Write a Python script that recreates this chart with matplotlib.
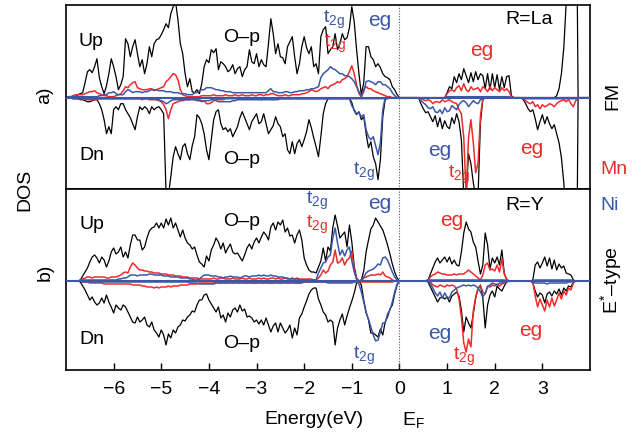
import numpy as np
import matplotlib
matplotlib.use("Agg")
import matplotlib.pyplot as plt

plt.rcParams['font.family'] = ['Liberation Sans', 'DejaVu Sans']
plt.rcParams['mathtext.fontset'] = 'custom'
plt.rcParams['mathtext.rm'] = 'Liberation Sans'
plt.rcParams['mathtext.it'] = 'Liberation Sans:italic'

RED = '#ee2b2b'
BLUE = '#3b58a8'

# energy grid, -7.00 ... 4.00 eV in 0.05 eV steps (221 points)
energy = np.round(np.linspace(-7.0, 4.0, 221), 2)

# ---------------- a) R=La, FM ----------------
a_up_tot = ([0, 0.1, 0, 0.2, 0.1, 0.3, 0.4, 0.5, 1.5, 2.6, 2.8, 2.5, 3.1, 3.9, 2.0, 1.1, 0.4, 1.2, 2.4, 3.9]
            + [3.1, 2.1, 0.8, 1.3, 2.1, 5.9, 5.4, 4.1, 5.1, 5.8, 4.4, 3.1, 3.8, 2.4, 3.4, 5.1, 4.1, 5.4, 5.8, 5.9]
            + [6.3, 6.8, 7.4, 7.0, 8.4, 9.1, 9.6, 7.8, 5.4, 4.4, 2.4, 1.1, 1.9, 0.6, 0.5, 0.8, 0.4, 1.4, 3.1, 3.8]
            + [3.5, 4.8, 4.5, 4.9, 2.8, 3.6, 3.4, 3.1, 2.6, 2.8, 3.3, 2.4, 2.9, 3.1, 2.1, 2.8, 3.1, 4.8, 3.6, 3.4]
            + [4.4, 3.1, 3.8, 3.3, 3.1, 5.4, 7.9, 6.4, 4.4, 5.4, 4.1, 4.0, 3.4, 5.1, 5.6, 6.1, 4.1, 2.4, 3.4, 5.1]
            + [6.1, 5.0, 4.4, 5.1, 3.1, 3.4, 2.4, 6.1, 6.8, 7.1, 4.4, 4.8, 5.1, 6.4, 4.8, 5.4, 6.4, 5.8, 6.0, 7.0]
            + [9.1, 7.6, 4.8, 2.4, 0.3, 1.5, 5.1, 5.1, 4.1, 3.8, 3.1, 3.4, 3.0, 2.4, 2.1, 2.0, 1.8, 1.1, 0.8, 0.3]
            + [0] * 20
            + [0.5, 1.1, 0.9, 2.1, 1.5, 2.4, 1.8, 2.9, 2.2, 1.5, 2.5, 1.6, 2.6, 1.8, 2.4, 2.2, 0.9, 2.4, 0.8, 2.4]
            + [1.0, 2.3, 0.8, 2.1, 1.0, 2.1, 2.2, 0.2] + [0] * 12
            + [0] * 6 + [0.2, 0.9, 2.4, 5.0, 9.5, 20, 30, 30, 30, 0, 0, 0, 0, 0]
            + [0])
a_dn_tot = ([0, 0, 0, -0.1, 0, -0.1, -0.2, -0.2, -0.3, -0.4, -0.4, -0.3, -0.2, -0.2, -0.6, -1.2, -2.2, -3.6, -2.9, -3.6]
            + [-1.2, -0.9, -1.2, -0.6, -0.6, -1.2, -1.6, -2.0, -2.6, -3.2, -1.9, -0.9, -1.2, -0.9, -1.1, -1.6, -0.9, -1.2, -1.0, -0.9]
            + [-1.2, -1.6, -9.5, -9.8, -7.9, -5.9, -4.9, -5.6, -6.2, -4.9, -4.6, -5.6, -6.2, -4.8, -3.9, -1.7, -2.0, -2.6, -3.6, -5.2]
            + [-6.2, -4.2, -2.2, -1.4, -1.2, -2.6, -3.2, -3.0, -3.4, -3.1, -3.9, -3.4, -2.9, -2.0, -1.4, -2.0, -2.6, -3.2, -2.4, -2.0]
            + [-1.6, -2.6, -2.4, -1.6, -2.6, -3.6, -3.2, -2.8, -1.9, -2.6, -2.9, -3.9, -3.6, -5.2, -5.6, -4.4, -5.6, -4.6, -4.2, -4.9]
            + [-4.2, -3.4, -2.2, -3.0, -4.0, -4.9, -5.9, -3.9, -1.6, -0.6, -0.1] + [0] * 9
            + [-0.5, -1.3, -1.7, -1.4, -2.2, -1.9, -3.6, -5.0, -4.4, -5.9, -6.6, -8.2, -6.2, -1.9, -0.2] + [0] * 5
            + [0] * 9 + [-0.6, -1.1, -1.5, -1.4, -1.9, -2.4, -1.8, -2.9, -2.0, -3.1, -2.3]
            + [-2.9, -3.1, -2.0, -2.6, -1.6, -2.4, -4.2, -9.8, -9.8, -5.6, -6.6, -8.5, -9.8, -9.8, -2.5, -0.2, 0, 0, 0, 0]
            + [0] * 12 + [-0.2, -0.6, -1.1, -1.4, -1.2, -2.1, -3.2, -2.4]
            + [-1.7, -2.6, -1.9, -2.6, -3.1, -2.7, -3.6, -4.5, -6.0, -8.5, -12, -30, -30, -30, -30, 0, 0, 0, 0, 0]
            + [0])
a_up_mn = ([0, 0.1, 0.1, 0.2, 0.3, 0.3, 0.3, 0.3, 0.4, 0.5, 0.6, 0.6, 0.7, 0.5, 0.4, 0.3, 0.2, 0.2, 0.1, 0.1]
           + [0.1, 0.2, 0.3, 0.4, 0.7, 1.1, 1.0, 1.3, 1.5, 1.6, 1.0, 0.9, 0.8, 0.8, 0.8, 0.9, 0.9, 0.7, 0.8, 0.9]
           + [1.0, 1.1, 1.6, 1.8, 2.1, 2.4, 2.3, 1.8, 0.8, 0.3, 0.2, 0.1, 0.1, 0.1, 0.1, 0.1, 0.1, 0.2, 0.2, 0.2]
           + [0.2, 0.2, 0.3, 0.2, 0.2, 0.2, 0.2, 0.3, 0.2, 0.2, 0.2, 0.3, 0.2, 0.2, 0.3, 0.2, 0.2, 0.2, 0.3, 0.2]
           + [0.2, 0.3, 0.3, 0.2, 0.3, 0.3, 0.4, 0.4, 0.3, 0.2, 0.2, 0.2, 0.3, 0.2, 0.2, 0.3, 0.3, 0.3, 0.3, 0.4]
           + [0.4, 0.5, 0.6, 0.8, 0.7, 0.6, 0.7, 0.9, 1.0, 1.1, 0.9, 1.2, 1.3, 1.4, 1.6, 1.5, 1.8, 1.9, 2.1, 2.6]
           + [3.2, 2.4, 1.3, 0.4, 0.1, 0.8, 1.1, 0.9, 0.9, 0.7, 0.6, 0.5, 0.4, 0.3, 0.2, 0.1, 0.1, 0, 0, 0]
           + [0] * 20
           + [0.4, 0.7, 0.8, 0.6, 1.0, 1.2, 0.7, 1.4, 0.8, 0.6, 1.1, 0.8, 0.9, 1.0, 0.6, 1.1, 0.9, 0.6, 1.1, 0.7]
           + [1.0, 0.8, 0.6, 1.0, 0.7, 0.9, 0.6, 0.1] + [0] * 12
           + [0] * 20
           + [0])
a_dn_mn = ([0, 0, 0, -0.1, -0.1, -0.1, -0.1, -0.1, -0.1, -0.2, -0.2, -0.2, -0.2, -0.2, -0.1, -0.1, -0.1, -0.1, -0.1, -0.1]
           + [-0.1] * 12 + [-0.2, -0.1, -0.1, -0.2, -0.2, -0.2, -0.2, -0.3]
           + [-0.4, -0.7, -1.2, -2.1, -1.2, -0.6, -0.5, -0.4, -0.3, -0.3, -0.2, -0.2, -0.2, -0.1, -0.2, -0.2, -0.2, -0.3, -0.3, -0.6]
           + [-0.6, -0.5, -0.3, -0.2, -0.2, -0.2, -0.2] + [-0.1] * 13
           + [-0.1, -0.1, -0.2, -0.1, -0.1, -0.1, -0.1, -0.2, -0.1, -0.1] + [-0.1] * 10
           + [-0.1] * 20
           + [-0.1] * 16 + [0] * 4
           + [0] * 9 + [-0.1, -0.2, -0.3, -0.2, -0.3, -0.6, -0.4, -0.4, -0.5, -0.2, -0.4]
           + [-0.3, -0.2, -0.4, -0.5, -0.6, -1.2, -1.6, -4.0, -9.6, -4.0, -2.2, -4.5, -7.5, -6.5, -1.8, -0.1, 0, 0, 0, 0]
           + [0] * 12 + [-0.1, -0.3, -0.5, -0.6, -0.4, -0.9, -0.7, -1.1]
           + [-0.7, -0.9, -0.8, -0.6, -0.7, -0.9, -0.6, -0.4, -0.3, -0.2, -0.4, -0.2, -0.6, -0.9, -0.3, -0.1, 0, 0, 0, 0]
           + [0])
a_up_ni = ([0, 0.1, 0.1, 0.1, 0.1, 0.1, 0.1, 0.1, 0.1, 0.1, 0.1, 0.1, 0.1, 0.1, 0.2, 0.2, 0.3, 0.3, 0.5, 0.5]
           + [0.6, 0.4, 0.3, 0.3, 0.3, 0.6, 0.8, 0.7, 0.5, 0.6, 0.6, 0.6, 0.5, 0.6, 0.6, 0.7, 0.8, 0.8, 0.8, 0.7]
           + [0.7, 0.7, 0.6, 0.6, 0.6, 0.5, 0.5, 0.5, 0.4, 0.4, 0.4, 0.3, 0.3, 0.3, 0.5, 0.5, 0.7, 0.8, 0.8, 1.0]
           + [1.0, 1.0, 0.9, 0.8, 0.8, 0.7, 0.7, 0.6, 0.6, 0.6] + [0.5] * 10
           + [0.5, 0.5, 0.5, 0.5, 0.5, 0.7, 0.9, 0.6, 0.6, 0.5, 0.5, 0.5, 0.6, 0.6, 0.5, 0.5, 0.6, 0.6, 0.7, 0.7]
           + [0.7, 0.8, 0.8, 0.9, 0.9, 1.0, 1.1, 2.0, 2.4, 2.6, 2.8, 3.1, 2.9, 2.8, 2.6, 2.4, 2.4, 2.2, 2.2, 2.1]
           + [1.9, 1.6, 1.1, 0.6, 0.1, 0.6, 1.6, 1.7, 1.6, 1.5, 1.3, 1.6, 1.6, 1.3, 1.3, 1.1, 0.9, 0.5, 0.2, 0.0]
           + [0] * 20
           + [0.1] * 20
           + [0.1] * 7 + [0] * 13
           + [0] * 20
           + [0])
a_dn_ni = ([0, 0, 0] + [-0.1] * 17
           + [-0.1] * 18 + [-0.2, -0.2]
           + [-0.3, -0.4, -0.6, -0.5, -0.3, -0.2, -0.2, -0.2, -0.2, -0.2, -0.2, -0.2, -0.2, -0.2, -0.2, -0.3, -0.3, -0.4, -0.3, -0.3]
           + [-0.3, -0.2, -0.2, -0.3, -0.4, -0.4, -0.4, -0.4, -0.4, -0.4, -0.3, -0.3] + [-0.2] * 8
           + [-0.2] * 10 + [-0.1] * 10
           + [-0.1] * 20
           + [-0.8, -1.2, -1.6, -1.5, -1.9, -1.7, -3.2, -3.9, -4.2, -3.9, -4.8, -5.7, -4.5, -1.2] + [0] * 6
           + [0] * 9 + [-0.3, -0.5, -0.7, -1.0, -1.1, -0.9, -1.4, -1.5, -1.2, -1.6, -1.0]
           + [-1.4, -1.3, -0.8, -1.0, -1.2, -0.7, -0.4, -0.3, -0.5, -0.9, -0.6, -0.3, -0.5, -0.6, -0.2, -0.1, 0, 0, 0, 0]
           + [0] * 12 + [-0.1] * 8
           + [-0.1] * 16 + [0] * 4
           + [0])

# ---------------- b) R=Y, E*-type ----------------
b_up_tot = ([0] * 6 + [0.1, 0.5, 0.9, 1.3, 1.9, 2.4, 2.6, 2.3, 1.8, 2.4, 2.1, 1.4, 2.0, 2.9]
            + [3.3, 2.7, 2.9, 3.4, 2.4, 2.9, 2.3, 3.6, 4.6, 4.6, 4.1, 4.1, 3.1, 3.4, 4.3, 5.0, 5.3, 5.4, 5.8, 5.3]
            + [5.8, 5.3, 6.2, 5.6, 6.3, 5.3, 5.8, 5.1, 4.4, 5.1, 4.3, 3.8, 3.6, 3.2, 3.4, 2.6, 1.9, 1.7, 1.4, 2.5]
            + [2.0, 3.1, 3.6, 4.3, 3.9, 3.2, 3.8, 2.8, 3.3, 3.7, 2.9, 2.7, 2.8, 2.4, 2.0, 2.6, 3.3, 3.7, 3.2, 3.9]
            + [4.3, 3.8, 4.4, 4.9, 4.6, 4.1, 5.4, 5.8, 5.1, 5.9, 5.6, 6.1, 4.9, 5.3, 4.5, 4.6, 3.8, 4.6, 5.1, 4.1]
            + [2.3, 1.6, 1.1, 0.9, 0.9, 0.8, 1.4, 2.0, 3.3, 2.0, 3.4, 3.0, 5.3, 6.6, 5.5, 4.3, 4.6, 4.9, 3.4, 5.6]
            + [3.9, 1.5, 0.3, 0.0, 0.1, 1.0, 2.9, 4.1, 5.2, 5.6, 6.3, 5.9, 5.5, 5.1, 4.4, 3.6, 2.7, 1.7, 0.9, 0.3]
            + [0] * 12 + [0.1, 0.7, 1.3, 1.9, 2.3, 1.8, 2.1, 2.4]
            + [1.9, 2.4, 1.7, 2.1, 1.6, 1.5, 2.9, 4.8, 5.9, 5.2, 4.9, 3.9, 3.4, 2.0, 0.7, 1.6, 4.8, 3.6, 1.2, 2.3]
            + [1.8, 2.4, 1.6, 3.1, 0.8, 0.1] + [0] * 10 + [0.1, 1.6, 1.9, 1.3]
            + [1.8, 2.4, 1.5, 2.3, 1.2, 2.1, 1.1, 1.7, 1.3, 1.5, 0.8, 0.7, 0.6, 0.1] + [0] * 6
            + [0])
b_dn_tot = ([0] * 6 + [-0.1, -0.5, -0.9, -1.4, -1.9, -1.6, -2.1, -2.4, -2.2, -1.7, -2.2, -1.4, -2.1, -2.6]
            + [-3.2, -2.4, -2.7, -2.9, -2.4, -2.6, -3.1, -3.6, -4.1, -4.2, -3.6, -4.1, -3.9, -3.6, -4.4, -4.6, -4.1, -4.9, -5.2, -5.6]
            + [-4.9, -5.4, -6.4, -5.3, -5.7, -4.9, -5.2, -4.6, -4.4, -3.9, -4.0, -3.6, -3.4, -3.0, -3.1, -2.4, -1.9, -1.9, -1.4, -1.3]
            + [-1.9, -2.3, -2.7, -3.1, -2.6, -3.7, -3.4, -4.1, -3.2, -3.6, -2.9, -2.7, -3.1, -2.4, -3.0, -2.8, -3.6, -3.5, -3.7, -4.1]
            + [-3.9, -4.3, -3.9, -4.4, -3.7, -4.4, -5.1, -4.5, -4.2, -5.1, -4.2, -4.7, -5.2, -4.9, -4.4, -5.7, -4.7, -5.4, -3.7, -3.3]
            + [-2.6, -2.0, -1.3, -0.9, -0.7, -0.7, -1.8, -2.4, -3.1, -3.4, -4.1, -3.9, -4.1, -6.4, -4.7, -3.9, -3.3, -4.4, -3.5, -2.7]
            + [-2.0, -1.2, -0.2, 0.0, -0.4, -1.9, -3.1, -3.9, -5.2, -5.2, -5.4, -5.6, -4.8, -5.4, -4.1, -3.6, -2.8, -2.4, -1.3, -0.4]
            + [0] * 12 + [-0.1, -0.6, -1.1, -1.6, -2.1, -1.7, -1.6, -1.8]
            + [-1.6, -2.1, -1.5, -1.3, -1.1, -1.5, -2.9, -5.1, -3.6, -4.2, -4.7, -3.3, -1.7, -0.8, -0.4, -1.7, -4.7, -2.4, -1.4, -1.0]
            + [-1.6, -0.5, -0.8, -1.0, -0.5, -0.1] + [0] * 10 + [-0.2, -1.0, -1.6, -1.2]
            + [-1.4, -2.2, -1.3, -1.1, -1.5, -1.0, -1.3, -0.8, -1.4, -0.7, -1.0, -0.5, -0.6, -0.1] + [0] * 6
            + [0])
b_up_mn = ([0] * 6 + [0.1, 0.2, 0.3, 0.4, 0.4, 0.3, 0.4, 0.4, 0.4, 0.4, 0.4, 0.3, 0.3, 0.4]
           + [0.4, 0.4, 0.5, 0.6, 0.8, 0.9, 0.8, 1.4, 1.8, 1.6, 1.3, 1.1, 1.1, 1.0, 1.0, 0.9, 0.9, 0.8, 0.8, 0.8]
           + [0.7, 0.7, 0.7, 0.6, 0.6, 0.6, 0.5, 0.5, 0.5, 0.4, 0.4, 0.4, 0.3, 0.3, 0.3, 0.3, 0.2, 0.2, 0.2, 0.2]
           + [0.2, 0.2, 0.3, 0.2, 0.2, 0.3, 0.3, 0.2, 0.2, 0.2, 0.3, 0.2, 0.2, 0.2, 0.3, 0.2, 0.2, 0.3, 0.2, 0.2]
           + [0.2, 0.3, 0.2, 0.3, 0.2, 0.2, 0.3, 0.3, 0.2, 0.3, 0.2, 0.2, 0.3, 0.2, 0.2, 0.3, 0.2, 0.3, 0.2, 0.2]
           + [0.2, 0.2, 0.2, 0.2, 0.1, 0.1, 0.3, 0.6, 1.1, 0.8, 1.0, 1.6, 1.9, 3.1, 1.8, 1.9, 2.3, 1.6, 2.1, 2.3]
           + [3.0, 1.2, 0.2, 0.0, 0.0, 0.3, 0.4, 0.5, 0.6, 0.6, 0.6, 0.7, 0.6, 0.9, 0.5, 0.4, 0.3, 0.1, 0.0, 0.0]
           + [0] * 12 + [0.1, 0.4, 0.6, 0.7, 0.9, 0.8, 0.7, 0.7]
           + [0.6, 0.6, 0.6, 0.7, 0.6, 0.7, 0.7, 0.7, 0.9, 1.1, 0.9, 0.7, 0.5, 0.3, 0.1, 0.6, 1.6, 1.8, 1.1, 1.2]
           + [1.0, 1.6, 0.9, 2.2, 0.7, 0.2] + [0] * 14
           + [0] * 20
           + [0])
b_dn_mn = ([0] * 7 + [-0.1, -0.1, -0.1, -0.2, -0.2, -0.2, -0.2, -0.2, -0.2, -0.3, -0.3, -0.3, -0.3]
           + [-0.3] * 8 + [-0.4, -0.4, -0.4, -0.4, -0.5, -0.5, -0.6, -0.6, -0.6, -0.7, -0.6, -0.7]
           + [-0.6, -0.6, -0.6, -0.5, -0.6, -0.5, -0.5, -0.5, -0.4, -0.4, -0.4, -0.4, -0.3, -0.3, -0.3, -0.3, -0.2, -0.2, -0.2, -0.2]
           + [-0.2, -0.2, -0.2, -0.1, -0.2, -0.2, -0.1, -0.2, -0.2, -0.1, -0.2, -0.1, -0.2, -0.2, -0.1, -0.2, -0.2, -0.1, -0.2, -0.2]
           + [-0.2, -0.1, -0.2, -0.2, -0.1, -0.2, -0.2, -0.2, -0.1, -0.2, -0.2, -0.2, -0.1, -0.2, -0.2, -0.1, -0.2, -0.2, -0.2, -0.1]
           + [-0.1] * 20
           + [-0.1] * 18 + [0, 0]
           + [0] * 13 + [-0.1, -0.4, -0.5, -0.6, -0.4, -0.5, -0.6]
           + [-0.4, -0.5, -0.4, -0.5, -0.8, -1.8, -3.6, -6.2, -7.1, -5.8, -6.6, -3.0, -1.6, -0.7, -0.5, -1.1, -1.3, -0.5, -0.6, -0.4]
           + [-0.5, -0.3, -0.5, -0.3, -0.2, -0.1] + [0] * 10 + [-0.1, -1.5, -2.6, -1.8]
           + [-2.4, -3.0, -1.9, -2.6, -1.7, -2.5, -1.9, -1.2, -1.8, -1.0, -1.4, -0.7, -0.9, -0.2] + [0] * 6
           + [0])
b_up_ni = ([0] * 7 + [0.1] * 13
           + [0.1, 0.1, 0.2, 0.2, 0.3, 0.3, 0.4, 0.6, 0.6, 0.6, 0.5, 0.6, 0.6, 0.6, 0.6, 0.7, 0.7, 0.6, 0.6, 0.6]
           + [0.6, 0.5, 0.5, 0.5, 0.4, 0.4, 0.4, 0.4, 0.3, 0.3, 0.3, 0.3, 0.2, 0.2, 0.1, 0.1, 0.2, 0.4, 0.6, 0.6]
           + [0.6, 0.5, 0.5, 0.5, 0.4, 0.4, 0.3, 0.4, 0.4, 0.5, 0.4, 0.4, 0.4, 0.3, 0.4, 0.5, 0.5, 0.4, 0.5, 0.5]
           + [0.5, 0.6, 0.5, 0.6, 0.5, 0.5, 0.6, 0.5, 0.5, 0.4, 0.4, 0.4, 0.3, 0.3, 0.2, 0.2, 0.2, 0.2, 0.1, 0.1]
           + [0.1] * 6 + [0.8, 1.3, 1.8, 1.9, 2.4, 2.6, 4.3, 5.3, 3.8, 2.6, 3.1, 2.5, 3.1, 3.4]
           + [2.0, 0.9, 0.2, 0.0, 0.1, 0.4, 0.8, 1.0, 1.1, 1.2, 1.4, 1.7, 1.6, 2.3, 2.4, 2.1, 1.5, 0.9, 0.4, 0.1]
           + [0] * 12 + [0.1] * 8
           + [0.1] * 20
           + [0.1] * 5 + [0] * 12 + [0.1] * 3
           + [0.1] * 13 + [0] * 7
           + [0])
b_dn_ni = ([0] * 7 + [-0.1] * 13
           + [-0.1] * 20
           + [-0.1] * 12 + [-0.2] * 4 + [-0.3] * 4
           + [-0.3] * 3 + [-0.2] * 17
           + [-0.2] * 20
           + [-0.1] * 10 + [-0.2] * 10
           + [-0.2, -0.1, 0.0, -0.3, -1.1, -2.1, -3.2, -3.8, -4.6, -5.4, -6.0, -5.9, -5.1, -4.2, -4.2, -3.3, -2.9, -2.1, -1.1, -0.3]
           + [0] * 13 + [-0.3, -0.7, -1.2, -1.5, -1.1, -1.7, -1.2]
           + [-1.6, -1.7, -1.1, -0.9, -0.7, -0.6, -0.5, -0.4, -0.5, -0.4, -0.5, -0.4, -0.5, -0.7, -1.1, -1.6, -1.2, -0.6, -0.4, -0.2]
           + [-0.3, -0.4, -0.2, -0.2, -0.1, -0.1] + [0] * 10 + [-0.1, -0.2, -0.2, -0.2]
           + [-0.2, -0.2, -0.3, -0.2, -0.2, -0.2, -0.2, -0.2, -0.2, -0.2, -0.2, -0.1, -0.1, 0] + [0] * 6
           + [0])

x_ticks = [-6, -5, -4, -3, -2, -1, 0, 1, 2, 3]

W, H = 641, 436
fig = plt.figure(figsize=(W / 100, H / 100), dpi=100)
ax_a = fig.add_axes([66 / W, 1 - 189 / H, 524 / W, 184 / H])
ax_b = fig.add_axes([66 / W, 1 - 370 / H, 524 / W, 181 / H])

panels = [
    (ax_a, a_up_tot, a_dn_tot, a_up_mn, a_dn_mn, a_up_ni, a_dn_ni, (-9.13, 9.27)),
    (ax_b, b_up_tot, b_dn_tot, b_up_mn, b_dn_mn, b_up_ni, b_dn_ni, (-8.9, 9.2)),
]
for ax, ut, dt, um, dm, un, dn, ylim in panels:
    ax.plot(energy, ut, color='black', lw=0.9)
    ax.plot(energy, dt, color='black', lw=0.9)
    ax.plot(energy, um, color=RED, lw=1.1)
    ax.plot(energy, dm, color=RED, lw=1.1)
    ax.plot(energy, un, color=BLUE, lw=1.1)
    ax.plot(energy, dn, color=BLUE, lw=1.1)
    ax.axhline(0, color=BLUE, lw=1.5, zorder=5)
    ax.axvline(0, color='#555555', lw=0.8, ls=(0, (1, 1.5)))
    ax.set_xlim(-7.0, 4.0)
    ax.set_ylim(*ylim)
    ax.set_yticks([])
    for s in ax.spines.values():
        s.set_linewidth(1.2)

ax_a.set_xticks([])
ax_b.set_xticks(x_ticks)
ax_b.tick_params(axis='x', direction='in', length=5, width=1, pad=8, labelsize=14)

fs = 14
t2g = 't$_{\\mathrm{2g}}$'
# panel a labels
ax_a.text(-6.48, 5.67, 'Up', fontsize=fs, ha='center', va='center')
ax_a.text(-6.46, -5.83, 'Dn', fontsize=fs, ha='center', va='center')
ax_a.text(-3.31, 5.97, 'O–p', fontsize=fs, ha='center', va='center')
ax_a.text(-3.31, -6.23, 'O–p', fontsize=fs, ha='center', va='center')
ax_a.text(-1.38, 7.75, t2g, fontsize=fs, color=BLUE, ha='center', va='center')
ax_a.text(-1.36, 5.35, t2g, fontsize=fs, color=RED, ha='center', va='center')
ax_a.text(-0.42, 7.67, 'eg', fontsize=fs + 1, color=BLUE, ha='center', va='center')
ax_a.text(2.73, 7.77, 'R=La', fontsize=fs, ha='center', va='center')
ax_a.text(1.72, 4.77, 'eg', fontsize=fs + 1, color=RED, ha='center', va='center')
ax_a.text(0.84, -5.23, 'eg', fontsize=fs + 1, color=BLUE, ha='center', va='center')
ax_a.text(1.26, -7.73, t2g, fontsize=fs, color=RED, ha='center', va='center')
ax_a.text(2.77, -5.03, 'eg', fontsize=fs + 1, color=RED, ha='center', va='center')
ax_a.text(-0.75, -7.43, t2g, fontsize=fs, color=BLUE, ha='center', va='center')

# panel b labels
ax_b.text(-6.46, 5.7, 'Up', fontsize=fs, ha='center', va='center')
ax_b.text(-6.46, -5.8, 'Dn', fontsize=fs, ha='center', va='center')
ax_b.text(-3.31, 6.0, 'O–p', fontsize=fs, ha='center', va='center')
ax_b.text(-3.31, -6.2, 'O–p', fontsize=fs, ha='center', va='center')
ax_b.text(-1.74, 8.0, t2g, fontsize=fs, color=BLUE, ha='center', va='center')
ax_b.text(-1.74, 5.65, t2g, fontsize=fs, color=RED, ha='center', va='center')
ax_b.text(-0.42, 7.8, 'eg', fontsize=fs + 1, color=BLUE, ha='center', va='center')
ax_b.text(-0.75, -7.5, t2g, fontsize=fs, color=BLUE, ha='center', va='center')
ax_b.text(2.62, 7.6, 'R=Y', fontsize=fs, ha='center', va='center')
ax_b.text(1.09, 6.1, 'eg', fontsize=fs + 1, color=RED, ha='center', va='center')
ax_b.text(0.84, -5.2, 'eg', fontsize=fs + 1, color=BLUE, ha='center', va='center')
ax_b.text(1.36, -7.6, t2g, fontsize=fs, color=RED, ha='center', va='center')
ax_b.text(2.75, -4.9, 'eg', fontsize=fs + 1, color=RED, ha='center', va='center')


def ftext(px, py, s, **kw):
    fig.text(px / W, 1 - py / H, s, ha='center', va='center', fontsize=fs, **kw)


ftext(45, 95, 'a)', rotation=90)
ftext(45, 272, 'b)', rotation=90)
ftext(25, 190, 'DOS', rotation=90)
ftext(613, 96, 'FM', rotation=90)
ftext(614, 170, 'Mn', color=RED)
ftext(610, 205, 'Ni', color=BLUE)
ftext(611, 280, 'E$^{*}$–type', rotation=90)
ftext(314, 419, 'Energy(eV)')
ftext(413, 420, 'E$_{\\mathrm{F}}$')

fig.savefig('out.png', dpi=100)
